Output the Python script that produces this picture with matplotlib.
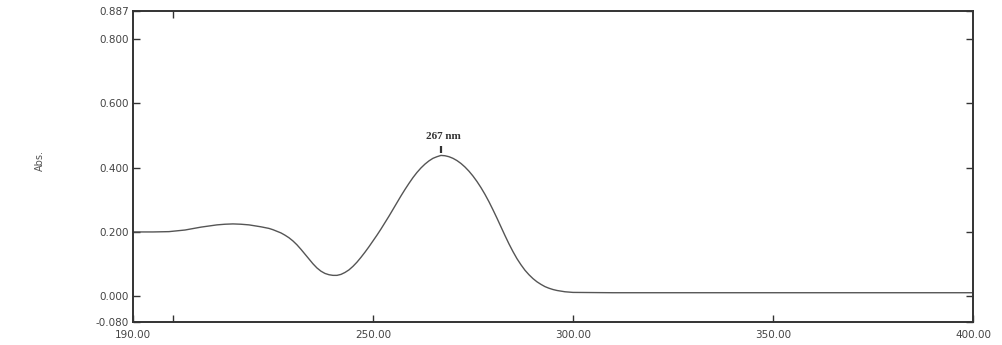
import numpy as np
import matplotlib
matplotlib.use("Agg")
import matplotlib.pyplot as plt

# UV spectrum
wavelength = [190, 195, 199, 203, 207, 211, 213, 215, 217, 219, 220, 222, 224, 225,
              226, 227, 228, 229, 230, 231, 232, 233, 234, 235, 236, 237, 238, 239,
              240, 241, 242, 243, 244, 245, 246, 247, 248, 249, 250, 251, 252, 253,
              254, 255, 256, 257, 258, 259, 260, 261, 262, 263, 264, 265, 266, 267,
              268, 269, 270, 271, 272, 273, 274, 275, 276, 277, 278, 279, 280, 281,
              282, 283, 284, 285, 286, 287, 288, 289, 290, 291, 292, 293, 294, 295,
              296, 297, 298, 299, 300, 310, 350, 400]
absorbance = [0.200, 0.200, 0.201, 0.206, 0.215, 0.222, 0.224, 0.225, 0.224, 0.222,
              0.220, 0.216, 0.211, 0.207, 0.202, 0.197, 0.190, 0.182, 0.172, 0.160,
              0.146, 0.131, 0.116, 0.101, 0.088, 0.078, 0.071, 0.067, 0.065, 0.065,
              0.068, 0.074, 0.082, 0.093, 0.106, 0.121, 0.137, 0.154, 0.172, 0.190,
              0.209, 0.229, 0.249, 0.270, 0.291, 0.312, 0.332, 0.351, 0.369, 0.385,
              0.399, 0.411, 0.421, 0.429, 0.434, 0.438, 0.437, 0.434, 0.429, 0.422,
              0.413, 0.402, 0.389, 0.374, 0.357, 0.338, 0.317, 0.294, 0.269, 0.243,
              0.216, 0.189, 0.163, 0.139, 0.117, 0.098, 0.081, 0.067, 0.055, 0.045,
              0.037, 0.030, 0.025, 0.021, 0.018, 0.016, 0.014, 0.013, 0.012, 0.011,
              0.011, 0.011]

peak_nm = 267
peak_abs = 0.438

x_ticks = [190, 250, 300, 350, 400]
x_labels = ["190.00", "250.00", "300.00", "350.00", "400.00"]
y_ticks = [-0.080, 0.000, 0.200, 0.400, 0.600, 0.800, 0.887]
y_labels = ["-0.080", "0.000", "0.200", "0.400", "0.600", "0.800", "0.887"]

fig = plt.figure(figsize=(10.02, 3.45), dpi=100)
ax = fig.add_axes([0.1327, 0.0667, 0.8383, 0.9013])

ax.plot(wavelength, absorbance, color="#555555", lw=1.0)
ax.set_xlim(190, 400)
ax.set_ylim(-0.080, 0.887)

ax.set_xticks(x_ticks)
ax.set_xticklabels(x_labels)
ax.set_yticks(y_ticks)
ax.set_yticklabels(y_labels)
ax.set_xticks([200], minor=True)

ax.tick_params(axis="both", which="both", direction="in", length=5, width=1,
               color="#333333", labelsize=7.5, labelcolor="#444444", pad=3)
ax.tick_params(axis="x", pad=6)
ax.tick_params(axis="y", right=True, labelright=False)
ax.tick_params(axis="x", which="minor", top=True)
for s in ax.spines.values():
    s.set_linewidth(1.4)
    s.set_color("#333333")

ax.vlines(peak_nm, peak_abs + 0.008, peak_abs + 0.03, color="#333333", lw=1.6)
ax.text(peak_nm + 0.5, peak_abs + 0.045, "267 nm", ha="center", va="bottom",
        fontsize=8, fontweight="bold", family="Liberation Serif", color="#333333")

fig.text(0.04, 0.536, "Abs.", rotation=90, ha="center", va="center",
         fontsize=7, color="#555555")

fig.savefig("out.png", dpi=100)
